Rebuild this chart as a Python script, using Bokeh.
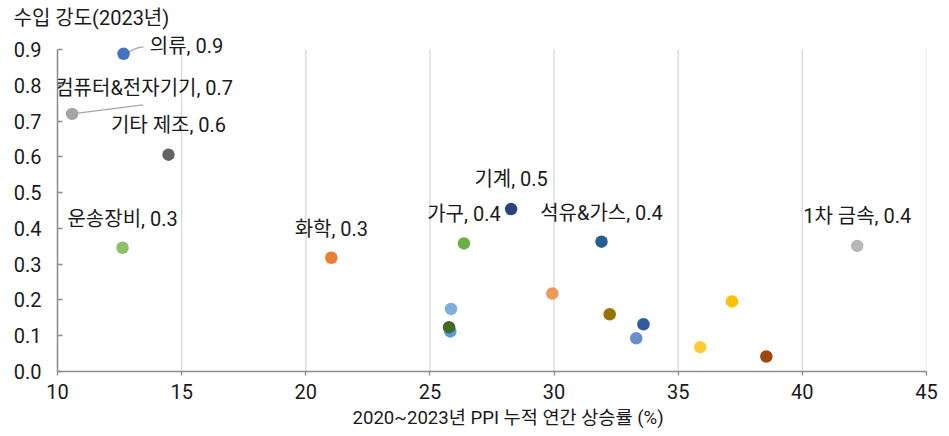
from bokeh.plotting import figure
from bokeh.models import ColumnDataSource, FixedTicker, PrintfTickFormatter, Range1d, Title
from bokeh.core.properties import value
from bokeh.embed import file_html
from bokeh.resources import INLINE

# ---- data (Excel series order) ----
sectors = ["의류", "화학", "컴퓨터&전자기기", "", "", "가구", "기계", "", "기타 제조", "",
           "석유&가스", "", "", "", "1차 금속", "", "", "운송장비", ""]
ppi_growth = [12.66, 21.03, 10.59, 37.17, 25.82, 26.37, 28.27, 38.55, 14.47, 32.24,
              31.91, 25.77, 33.31, 29.93, 42.21, 35.89, 25.85, 12.62, 33.60]
import_intensity = [0.888, 0.318, 0.720, 0.196, 0.112, 0.358, 0.454, 0.042, 0.606, 0.160,
                    0.363, 0.124, 0.093, 0.218, 0.351, 0.068, 0.175, 0.346, 0.132]
colors = ["#4472C4", "#ED7D31", "#A5A5A5", "#FFC000", "#5B9BD5", "#70AD47", "#264478", "#9E480E",
          "#636363", "#997300", "#255E91", "#43682B", "#698ED0", "#F1975A", "#B7B7B7", "#FFCD33",
          "#7CAFDD", "#8CC168", "#335AA1"]

x_ticks = [10, 15, 20, 25, 30, 35, 40, 45]
y_ticks = [0.0, 0.1, 0.2, 0.3, 0.4, 0.5, 0.6, 0.7, 0.8, 0.9]
x_title = "2020~2023년 PPI 누적 연간 상승률 (%)"
y_title = "수입 강도(2023년)"

FONT = "Roboto, 'Noto Sans CJK KR'"
FS = "20px"
TXT = "#1a1a1a"

W, H = 949, 436
L, R, T, B = 57, 23, 30, 65
fw, fh = W - L - R, H - T - B
xr = (10, 45)
ys = 322 / 0.9                      # px per y unit, axis 0..0.9 spans 322 px
yr = (0, fh / ys)
xs = fw / (xr[1] - xr[0])

p = figure(width=W, height=H, output_backend="svg", toolbar_location=None,
           x_range=Range1d(*xr), y_range=Range1d(*yr),
           min_border_left=L, min_border_right=R, min_border_top=T, min_border_bottom=B)
p.outline_line_color = None
p.background_fill_color = "white"
p.border_fill_color = "white"

p.xgrid.grid_line_color = None
p.ygrid.grid_line_color = None
# vertical gridlines only over the 0..0.9 span
p.segment(x0=x_ticks[1:], y0=[y_ticks[0]] * (len(x_ticks) - 1), x1=x_ticks[1:],
          y1=[y_ticks[-1]] * (len(x_ticks) - 1), line_color="#d9d9d9", line_width=1.3)

p.xaxis.ticker = FixedTicker(ticks=x_ticks)
p.yaxis.ticker = FixedTicker(ticks=y_ticks)
p.yaxis.bounds = (y_ticks[0], y_ticks[-1])
p.yaxis.formatter = PrintfTickFormatter(format="%.1f")
for ax in (p.xaxis, p.yaxis):
    ax.axis_line_color = "#8c8c8c"
    ax.axis_line_width = 1.5
    ax.major_tick_line_color = "#8c8c8c"
    ax.major_tick_line_width = 1.3
    ax.minor_tick_line_color = None
    ax.major_label_text_font = FONT
    ax.major_label_text_font_size = FS
    ax.major_label_text_color = TXT
p.xaxis.major_tick_in = 0
p.xaxis.major_tick_out = 4
p.xaxis.major_label_standoff = 8
p.yaxis.major_tick_in = 5
p.yaxis.major_tick_out = 0
p.yaxis.major_label_standoff = 16

# leader lines (pixel offsets from point)
leaders = {"의류": [(0, 0), (14, -6), (20, -7)], "컴퓨터&전자기기": [(0, 0), (71, -9)]}
for name, pts in leaders.items():
    i = sectors.index(name)
    lx = [ppi_growth[i] + dx / xs for dx, dy in pts]
    ly = [import_intensity[i] - dy / ys for dx, dy in pts]
    p.line(lx, ly, line_color="#a6a6a6", line_width=1.3)

src = ColumnDataSource(dict(x=ppi_growth, y=import_intensity, c=colors))
p.scatter("x", "y", source=src, size=12.5, fill_color="c", line_color="c", line_width=0)

# data labels
label_off = {"의류": (63, -8), "컴퓨터&전자기기": (72, -26), "기타 제조": (0, -30),
             "운송장비": (0, -29), "화학": (0, -29), "가구": (0, -29), "기계": (0, -30),
             "석유&가스": (0, -29), "1차 금속": (0, -30)}
lx, ly, lt, ox, oy = [], [], [], [], []
for i, name in enumerate(sectors):
    if name:
        lx.append(ppi_growth[i]); ly.append(import_intensity[i])
        lt.append(f"{name}, {import_intensity[i]:.1f}")
        ox.append(label_off[name][0]); oy.append(label_off[name][1])
lsrc = ColumnDataSource(dict(x=lx, y=ly, t=lt, ox=ox, oy=oy))
p.text("x", "y", text="t", source=lsrc, x_offset="ox", y_offset="oy",
       text_align="center", text_baseline="middle", text_font=value(FONT),
       text_font_size=FS, text_color=TXT)

# axis titles
p.add_layout(Title(text=y_title, align="left", offset=13 - L, standoff=2,
                   text_font=FONT, text_font_size=FS, text_font_style="normal",
                   text_color=TXT), "above")
p.add_layout(Title(text=x_title, align="left", offset=352 - L, standoff=7,
                   text_font=FONT, text_font_size="18.6px", text_font_style="normal",
                   text_color=TXT), "below")

open("out.html", "w").write(file_html(p, INLINE))
